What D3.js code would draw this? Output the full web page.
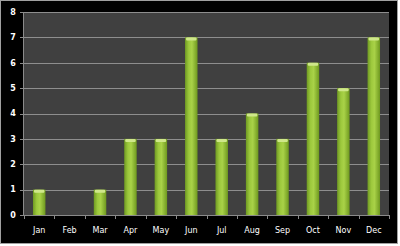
<!DOCTYPE html>
<html>
<head>
<meta charset="utf-8">
<script src="https://cdn.jsdelivr.net/npm/d3@7"></script>
<style>
  body { margin: 0; background: #fff; }
  text { font-family: "DejaVu Sans", sans-serif; }
</style>
</head>
<body>
<div id="chart"></div>
<script>
const months = ["Jan", "Feb", "Mar", "Apr", "May", "Jun", "Jul", "Aug", "Sep", "Oct", "Nov", "Dec"];
const values = [1, 0, 1, 3, 3, 7, 3, 4, 3, 6, 5, 7];
const yTicks = [0, 1, 2, 3, 4, 5, 6, 7, 8];

const fullWidth = 400,
  fullHeight = 246;
const margin = { top: 12, right: 11, bottom: 31, left: 24 },
  width = 389 - margin.left,
  height = 215 - margin.top;

const root = d3
  .select("#chart")
  .append("svg")
  .attr("width", fullWidth)
  .attr("height", fullHeight);

// marco exterior negro
root
  .append("rect")
  .attr("x", 0.5)
  .attr("y", 0.5)
  .attr("width", 397)
  .attr("height", 243)
  .attr("fill", "#000")
  .attr("stroke", "#a0a0a0");

const defs = root.append("defs");
const grad = defs
  .append("linearGradient")
  .attr("id", "bar-grad")
  .attr("x1", "0%")
  .attr("x2", "100%")
  .attr("y1", "0%")
  .attr("y2", "0%");
grad.append("stop").attr("offset", "0%").attr("stop-color", "#6f9a22");
grad.append("stop").attr("offset", "30%").attr("stop-color", "#9cc83c");
grad.append("stop").attr("offset", "55%").attr("stop-color", "#a9d248");
grad.append("stop").attr("offset", "100%").attr("stop-color", "#6e981f");

const svg = root
  .append("g")
  .attr("transform", `translate(${margin.left},${margin.top})`);

const xScale = d3.scaleBand().domain(months).range([0, width]).paddingInner(0.59).paddingOuter(0.295);
const xEdges = d3.scaleBand().domain(months).range([0, width]);
const yScale = d3.scaleLinear().domain([0, 8]).range([height, 0]);

svg
  .append("rect")
  .attr("width", width)
  .attr("height", height)
  .attr("fill", "#404040");

// lineas de la grilla
svg
  .selectAll(".grid")
  .data(yTicks.filter((d) => d > 0))
  .enter()
  .append("line")
  .attr("x1", 0)
  .attr("x2", width)
  .attr("y1", (d) => Math.round(yScale(d)) + 0.5)
  .attr("y2", (d) => Math.round(yScale(d)) + 0.5)
  .attr("stroke", "#8e8e8e")
  .attr("stroke-width", 1.2);

const bars = svg
  .selectAll(".bar")
  .data(values.map((v, i) => ({ month: months[i], value: v })).filter((d) => d.value > 0))
  .enter()
  .append("g");

bars
  .append("rect")
  .attr("x", (d) => xScale(d.month))
  .attr("y", (d) => yScale(d.value))
  .attr("width", xScale.bandwidth())
  .attr("height", (d) => height - yScale(d.value))
  .attr("fill", "url(#bar-grad)");

// tapa superior mas clara
bars
  .append("rect")
  .attr("x", (d) => xScale(d.month) + 1)
  .attr("y", (d) => yScale(d.value))
  .attr("width", xScale.bandwidth() - 2)
  .attr("height", 3)
  .attr("rx", 1)
  .attr("fill", "#cfe78a");

// eje X
const xAxis = svg
  .append("g")
  .attr("transform", `translate(0,${height})`);
xAxis
  .append("line")
  .attr("x1", 0)
  .attr("x2", width)
  .attr("y1", 0.5)
  .attr("y2", 0.5)
  .attr("stroke", "#8a8a8a");
xAxis
  .selectAll(".tick")
  .data(months.concat(["end"]))
  .enter()
  .append("line")
  .attr("x1", (d, i) => Math.round(i * xEdges.step()) + 0.5)
  .attr("x2", (d, i) => Math.round(i * xEdges.step()) + 0.5)
  .attr("y1", 0)
  .attr("y2", 4)
  .attr("stroke", "#8a8a8a");
xAxis
  .selectAll(".label")
  .data(months)
  .enter()
  .append("text")
  .attr("x", (d) => xEdges(d) + xEdges.bandwidth() / 2)
  .attr("y", 18)
  .attr("text-anchor", "middle")
  .attr("fill", "#fff")
  .style("font-size", "8px")
  .text((d) => d);

// eje Y
const yAxis = svg.append("g");
yAxis
  .append("line")
  .attr("x1", -0.5)
  .attr("x2", -0.5)
  .attr("y1", 0)
  .attr("y2", height)
  .attr("stroke", "#8a8a8a");
yAxis
  .selectAll(".ytick")
  .data(yTicks)
  .enter()
  .append("line")
  .attr("x1", -4)
  .attr("x2", 0)
  .attr("y1", (d) => Math.round(yScale(d)) + 0.5)
  .attr("y2", (d) => Math.round(yScale(d)) + 0.5)
  .attr("stroke", "#8a8a8a");
yAxis
  .selectAll(".ylabel")
  .data(yTicks)
  .enter()
  .append("text")
  .attr("x", -11)
  .attr("y", (d) => yScale(d))
  .attr("dy", "0.35em")
  .attr("text-anchor", "middle")
  .attr("fill", "#fff")
  .style("font-size", "8px")
  .style("font-weight", "bold")
  .text((d) => d);
</script>
</body>
</html>
